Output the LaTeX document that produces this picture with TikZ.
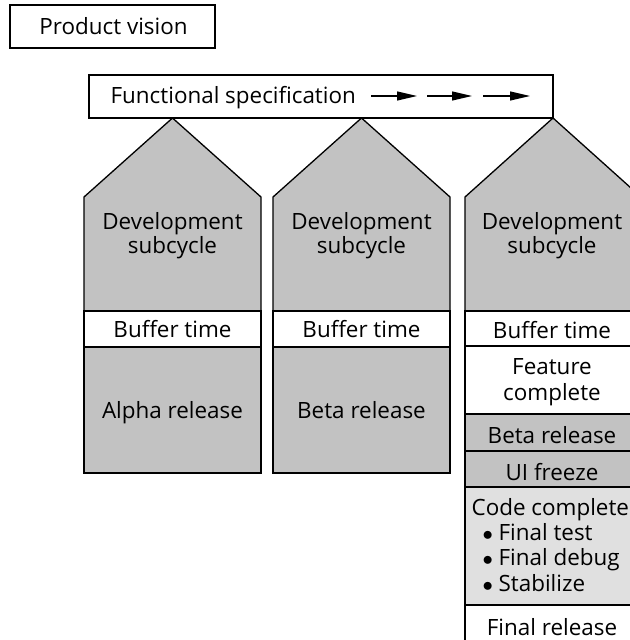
\documentclass[tikz,border=0pt]{standalone}
\usepackage{fontspec}
\setmainfont{Open Sans}
\usetikzlibrary{arrows.meta}
\definecolor{stip}{gray}{0.76}
\definecolor{stiplight}{gray}{0.88}
\newcommand{\bigbul}{$\bullet$\hspace{0.25em}}
\begin{document}
\begin{tikzpicture}[x=1bp,y=-1bp,line width=1.3bp,
  lbl/.style={font=\fontsize{22.5}{24}\selectfont,inner sep=0pt,anchor=base},
  lbll/.style={lbl,anchor=base west},
  boxnode/.style={draw,inner sep=0pt},
  shaded/.style={fill=stip,draw=black},
  lightshaded/.style={fill=stiplight,draw=black},
  plain/.style={fill=white,draw=black},
  flowarrow/.style={-{Triangle[length=20bp,width=9bp]},line width=1.2bp}]
\useasboundingbox (0,0) rectangle (630,640);
\clip (0,0) rectangle (630,640);

% top boxes
\node[boxnode,minimum width=205bp,minimum height=43bp] (pv) at (112.5,26.5) {};
\node[lbl] (pvt) at (113.5,35) {Product vision};
\node[boxnode,minimum width=464bp,minimum height=43bp] (fs) at (321,96.5) {};
\node[lbll] (fst) at (110,104) {Functional specification};
\coordinate (a1s) at (371,96);\coordinate (a1e) at (417,96);
\coordinate (a2s) at (427,96);\coordinate (a2e) at (472,96);
\coordinate (a3s) at (483,96);\coordinate (a3e) at (530,96);
\draw[flowarrow] (a1s) -- (a1e);
\draw[flowarrow] (a2s) -- (a2e);
\draw[flowarrow] (a3s) -- (a3e);

% column 1
\draw[shaded] (84,311) -- (84,197) -- (172.5,118) -- (261,197) -- (261,311) -- cycle;
\draw[plain] (84,311) rectangle (261,347);
\draw[shaded] (84,347) rectangle (261,473);
\node[lbl] (d1) at (172.5,229) {Development};
\node[lbl] (s1) at (172.5,253) {subcycle};
\node[lbl] (b1) at (172.5,337) {Buffer time};
\node[lbl] (r1) at (172.5,418) {Alpha release};

% column 2
\draw[shaded] (273,311) -- (273,197) -- (361.5,118) -- (450,197) -- (450,311) -- cycle;
\draw[plain] (273,311) rectangle (450,347);
\draw[shaded] (273,347) rectangle (450,473);
\node[lbl] (d2) at (361.5,229) {Development};
\node[lbl] (s2) at (361.5,253) {subcycle};
\node[lbl] (b2) at (361.5,337) {Buffer time};
\node[lbl] (r2) at (361.5,418) {Beta release};

% column 3
\draw[shaded] (465,311) -- (465,197) -- (553,118) -- (641,197) -- (641,311) -- cycle;
\draw[plain] (465,311) rectangle (641,346);
\draw[plain] (465,346) rectangle (641,414);
\draw[shaded] (465,414) rectangle (641,451);
\draw[shaded] (465,451) rectangle (641,487);
\draw[lightshaded] (465,487) rectangle (641,605);
\draw[plain] (465,605) rectangle (641,660);
\node[lbl] (d3) at (552,229) {Development};
\node[lbl] (s3) at (552,253) {subcycle};
\node[lbl] (b3) at (552,338) {Buffer time};
\node[lbl] (fc1) at (552,374) {Feature};
\node[lbl] (fc2) at (552,400) {complete};
\node[lbl] (br3) at (552,443) {Beta release};
\node[lbl] (ui) at (552,480) {UI freeze};
\node[lbll] (cc) at (471,515) {Code complete};
\node[lbll] (ft) at (482,540) {\bigbul Final test};
\node[lbll] (fd) at (482,565) {\bigbul Final debug};
\node[lbll] (st) at (482,591) {\bigbul Stabilize};
\node[lbl] (fr) at (552,635) {Final release};
\end{tikzpicture}
\end{document}
